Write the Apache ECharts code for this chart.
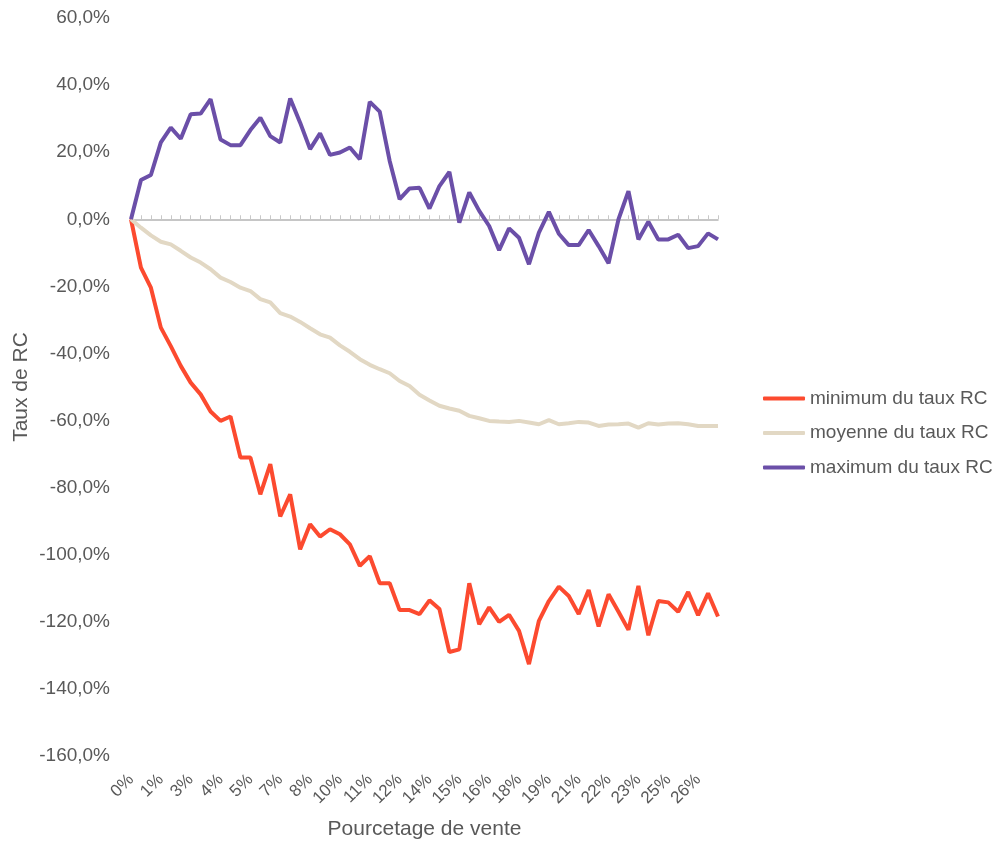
<!DOCTYPE html>
<html>
<head>
<meta charset="utf-8">
<script src="https://cdn.jsdelivr.net/npm/echarts@6/dist/echarts.min.js"></script>
<style>
  html, body { margin: 0; padding: 0; background: #fff; }
  #chart { width: 993px; height: 841px; }
</style>
</head>
<body>
<div id="chart"></div>
<script>
var categories = ['0%', '0%', '1%', '1%', '2%', '2%', '3%', '3%', '4%', '4%',
    '4%', '5%', '5%', '6%', '6%', '7%', '7%', '8%', '8%', '9%',
    '9%', '10%', '10%', '10%', '11%', '11%', '12%', '12%', '13%', '13%',
    '14%', '14%', '15%', '15%', '15%', '16%', '16%', '17%', '17%', '18%',
    '18%', '19%', '19%', '20%', '20%', '21%', '21%', '21%', '22%', '22%',
    '23%', '23%', '24%', '24%', '25%', '25%', '26%', '26%', '27%', '27%'];

var minTaux = [0, -14.4, -20.4, -32.3, -37.8, -43.7, -48.7, -52.2, -57.3, -60.1,
    -58.8, -71.0, -71.0, -82.0, -73.0, -88.6, -82.0, -98.4, -90.9, -94.6,
    -92.4, -93.9, -96.9, -103.3, -100.4, -108.5, -108.5, -116.5, -116.5, -117.7,
    -113.6, -116.2, -129.0, -128.2, -108.5, -120.7, -115.7, -120.0, -117.9, -122.7,
    -132.6, -119.7, -113.8, -109.5, -112.3, -117.7, -110.5, -121.4, -111.8, -117.0,
    -122.4, -109.3, -124.0, -113.8, -114.2, -117.0, -111.1, -118.0, -111.5, -118.4];

var moyTaux = [0, -2.5, -4.8, -6.7, -7.5, -9.4, -11.4, -12.9, -14.9, -17.4,
    -18.7, -20.4, -21.4, -23.8, -24.8, -28.0, -29.0, -30.6, -32.5, -34.3,
    -35.3, -37.6, -39.5, -41.7, -43.4, -44.7, -45.9, -48.2, -49.7, -52.3,
    -54.0, -55.6, -56.4, -57.1, -58.6, -59.3, -60.1, -60.3, -60.4, -60.1,
    -60.6, -61.1, -59.9, -61.1, -60.8, -60.4, -60.6, -61.6, -61.2, -61.1,
    -60.9, -62.1, -60.8, -61.2, -60.9, -60.8, -61.1, -61.6, -61.6, -61.6];

var maxTaux = [0, 11.7, 13.2, 22.9, 27.3, 24.0, 31.3, 31.5, 35.8, 23.8,
    22.1, 22.1, 26.6, 30.3, 24.8, 22.9, 36.0, 28.8, 20.9, 25.6,
    19.2, 19.9, 21.4, 17.9, 35.0, 32.1, 17.4, 6.0, 9.2, 9.4,
    3.2, 9.9, 14.1, -1.0, 8.0, 2.5, -2.0, -9.2, -2.7, -5.5,
    -13.4, -4.0, 2.2, -4.3, -7.7, -7.7, -3.2, -8.0, -13.1, 0,
    8.4, -6.0, -0.7, -6.0, -6.0, -4.6, -8.6, -8.0, -4.2, -6.0];

var seriesNames = ['minimum du taux RC', 'moyenne du taux RC', 'maximum du taux RC'];
var colors = ['#fc4a2f', '#e2d8c4', '#6b4fa8'];

var chart = echarts.init(document.getElementById('chart'));
var txt = '#595959';
var font = 'Liberation Sans, Arial, sans-serif';

var option = {
    animation: false,
    textStyle: { fontFamily: font },
    grid: { left: 131, right: 275, top: 18, bottom: 85, containLabel: false, outerBoundsMode: 'none' },
    legend: {
        orient: 'vertical',
        left: 758,
        top: 384,
        icon: 'roundRect',
        itemWidth: 42,
        itemHeight: 4,
        itemGap: 15.5,
        data: seriesNames,
        textStyle: { color: txt, fontSize: 19, fontFamily: font, lineHeight: 19 }
    },
    xAxis: [
        {
            type: 'category',
            data: categories,
            boundaryGap: false,
            position: 'bottom',
            axisLine: { show: false, onZero: false },
            axisTick: { show: false },
            axisLabel: {
                interval: 2,
                rotate: 45,
                margin: 21,
                color: txt,
                fontSize: 17,
                fontFamily: font
            },
            name: 'Pourcetage de vente',
            nameLocation: 'middle',
            nameGap: 63,
            nameTextStyle: { color: txt, fontSize: 21, fontFamily: font }
        },
        {
            type: 'category',
            data: categories,
            boundaryGap: false,
            axisLine: { show: true, onZero: true, lineStyle: { color: '#b4b4b4', width: 1.5 } },
            axisTick: { show: true, interval: 0, length: 4, lineStyle: { color: '#c8c8c8' } },
            axisLabel: { show: false }
        }
    ],
    yAxis: {
        type: 'value',
        min: -160,
        max: 60,
        interval: 20,
        axisLine: { show: false },
        axisTick: { show: false },
        splitLine: { show: false },
        axisLabel: {
            margin: 21,
            color: txt,
            fontSize: 19,
            fontFamily: font,
            formatter: function (v) {
                return v.toFixed(1).replace('.', ',') + '%';
            }
        },
        name: 'Taux de RC',
        nameLocation: 'middle',
        nameGap: 99,
        nameMoveOverlap: false,
        nameTextStyle: { color: txt, fontSize: 21, fontFamily: font }
    },
    series: [
        {
            name: seriesNames[0],
            type: 'line',
            data: minTaux,
            symbol: 'none',
            color: colors[0],
            lineStyle: { width: 4, color: colors[0] }
        },
        {
            name: seriesNames[1],
            type: 'line',
            data: moyTaux,
            symbol: 'none',
            color: colors[1],
            lineStyle: { width: 4, color: colors[1] }
        },
        {
            name: seriesNames[2],
            type: 'line',
            data: maxTaux,
            symbol: 'none',
            color: colors[2],
            lineStyle: { width: 4, color: colors[2] }
        }
    ]
};
chart.setOption(option);
</script>
</body>
</html>
